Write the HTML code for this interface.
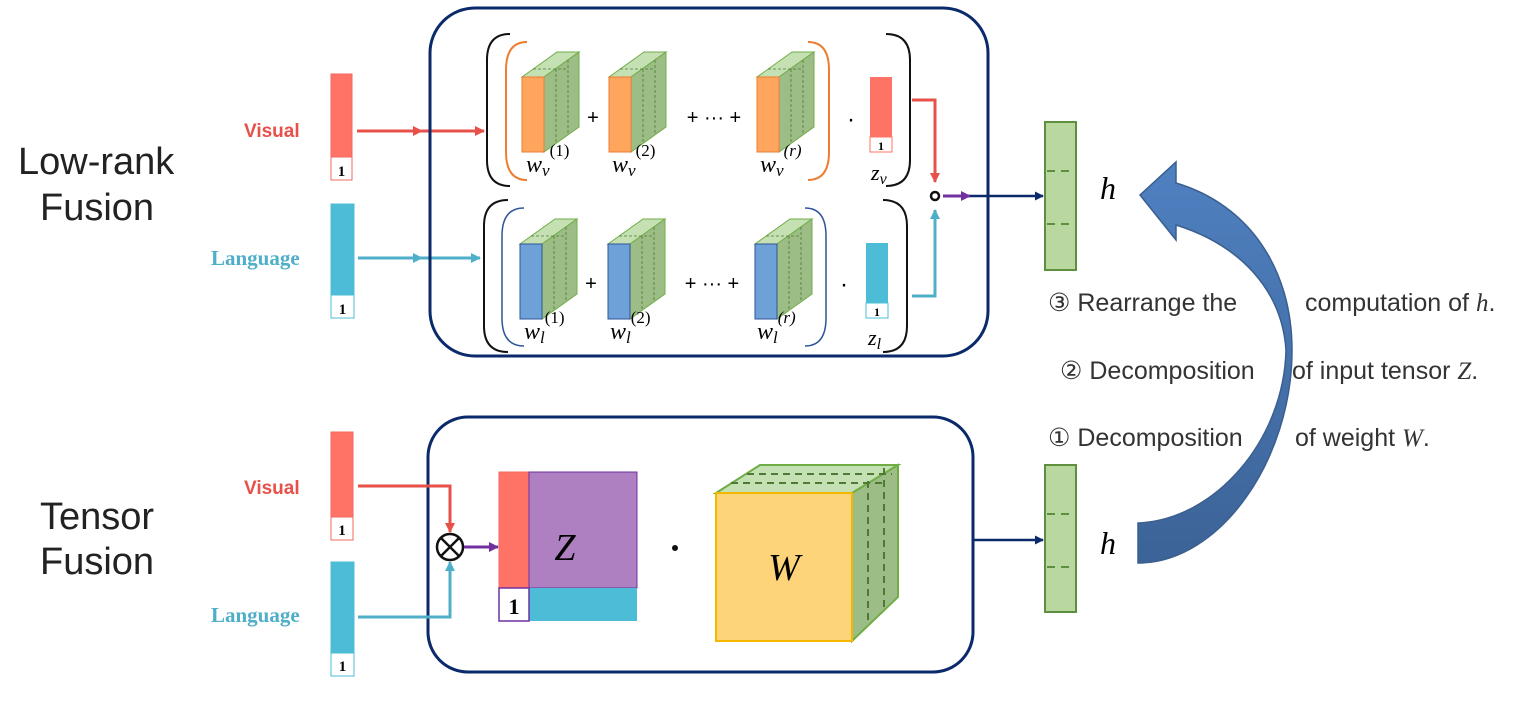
<!DOCTYPE html>
<html><head><meta charset="utf-8"><style>
body{margin:0;background:#fff;}
svg{display:block;}
text{font-family:"Liberation Sans",sans-serif;}
.s{font-family:"Liberation Serif",serif;font-style:italic;}
</style></head><body>
<svg width="1515" height="705" viewBox="0 0 1515 705" xmlns="http://www.w3.org/2000/svg">
<defs>
<marker id="ar" markerWidth="10" markerHeight="10" refX="9" refY="5" orient="auto" markerUnits="userSpaceOnUse"><path d="M0,0 L10,5 L0,10 Z" fill="#e8504a"/></marker>
<marker id="ac" markerWidth="10" markerHeight="10" refX="9" refY="5" orient="auto" markerUnits="userSpaceOnUse"><path d="M0,0 L10,5 L0,10 Z" fill="#4fafc9"/></marker>
<marker id="ap" markerWidth="10" markerHeight="10" refX="9" refY="5" orient="auto" markerUnits="userSpaceOnUse"><path d="M0,0 L10,5 L0,10 Z" fill="#7030a0"/></marker>
<marker id="an" markerWidth="9" markerHeight="9" refX="8" refY="4.5" orient="auto" markerUnits="userSpaceOnUse"><path d="M0,0 L9,4.5 L0,9 Z" fill="#0b2a6b"/></marker>
<linearGradient id="bg" x1="0" y1="0" x2="0" y2="1"><stop offset="0" stop-color="#4f80c0"/><stop offset="1" stop-color="#3c6397"/></linearGradient>
<g id="cube">
<path d="M0,0 L35,-25 L57,-25 L22,0 Z" fill="#c5e0b3" stroke="#70ad47" stroke-width="1"/>
<path d="M22,0 L57,-25 L57,50 L22,75 Z" fill="#9cbd86" stroke="#70ad47" stroke-width="1"/>
<path d="M11,-8 L46,-8 M34,-8 L34,67 M46,-17 L46,58" stroke="#4f7a35" stroke-width="0.8" stroke-dasharray="3,2" fill="none"/>
</g>
</defs>

<text x="18" y="174" font-size="38" fill="#222">Low-rank</text>
<text x="40" y="220" font-size="38" fill="#222">Fusion</text>
<text x="40" y="529" font-size="38" fill="#222">Tensor</text>
<text x="40" y="574" font-size="38" fill="#222">Fusion</text>

<text x="244" y="137" font-size="19" font-weight="bold" fill="#e8504a">Visual</text>
<text x="211" y="265" font-size="21" font-weight="bold" fill="#4fafc9" style="font-family:'Liberation Serif',serif">Language</text>
<rect x="331" y="74" width="21" height="83" fill="#ff7366" stroke="#f06a5f"/>
<rect x="331" y="157" width="21" height="23" fill="#fff" stroke="#f06a5f"/>
<text x="341.5" y="176" font-size="15" font-weight="bold" text-anchor="middle" style="font-family:'Liberation Serif',serif">1</text>
<rect x="331" y="204" width="23" height="91" fill="#4dbcd6" stroke="#4dbcd6"/>
<rect x="331" y="295" width="23" height="23" fill="#fff" stroke="#4dbcd6"/>
<text x="342.5" y="314" font-size="15" font-weight="bold" text-anchor="middle" style="font-family:'Liberation Serif',serif">1</text>
<line x1="357" y1="131" x2="422" y2="131" stroke="#e8504a" stroke-width="3" marker-end="url(#ar)"/>
<line x1="422" y1="131" x2="484" y2="131" stroke="#e8504a" stroke-width="3" marker-end="url(#ar)"/>
<line x1="358" y1="258" x2="422" y2="258" stroke="#4fafc9" stroke-width="3" marker-end="url(#ac)"/>
<line x1="422" y1="258" x2="480" y2="258" stroke="#4fafc9" stroke-width="3" marker-end="url(#ac)"/>

<rect x="430" y="8" width="558" height="348" rx="45" fill="none" stroke="#0b2a6b" stroke-width="3"/>
<path d="M510,34 Q487,34 487,60 L487,160 Q487,186 510,186" fill="none" stroke="#111" stroke-width="2"/>
<path d="M886,34 Q910,34 910,60 L910,160 Q910,186 886,186" fill="none" stroke="#111" stroke-width="2"/>
<path d="M527,42 Q506,42 506,70 L506,152 Q506,180 527,180" fill="none" stroke="#ed7d31" stroke-width="2"/>
<path d="M808,42 Q829,42 829,70 L829,152 Q829,180 808,180" fill="none" stroke="#ed7d31" stroke-width="2"/>
<path d="M508,200 Q484,200 484,226 L484,326 Q484,352 508,352" fill="none" stroke="#111" stroke-width="2"/>
<path d="M883,200 Q907,200 907,226 L907,326 Q907,352 883,352" fill="none" stroke="#111" stroke-width="2"/>
<path d="M524,208 Q502,208 502,236 L502,318 Q502,346 524,346" fill="none" stroke="#2f5597" stroke-width="1.5"/>
<path d="M805,208 Q826,208 826,236 L826,318 Q826,346 805,346" fill="none" stroke="#2f5597" stroke-width="1.5"/>

<use href="#cube" x="522" y="77"/><rect x="522" y="77" width="22" height="75" fill="#ffa55e" stroke="#ed7d31"/>
<use href="#cube" x="609" y="77"/><rect x="609" y="77" width="22" height="75" fill="#ffa55e" stroke="#ed7d31"/>
<use href="#cube" x="757" y="77"/><rect x="757" y="77" width="22" height="75" fill="#ffa55e" stroke="#ed7d31"/>
<text x="593" y="124" font-size="20" text-anchor="middle">+</text>
<text x="714" y="124" font-size="20" text-anchor="middle">+ ··· +</text>
<text x="851" y="127" font-size="24" text-anchor="middle">·</text>
<rect x="870" y="77" width="22" height="60" fill="#ff7366"/>
<rect x="870" y="137" width="22" height="15" fill="#fff" stroke="#ff7366"/>
<text x="881" y="150" font-size="12" font-weight="bold" text-anchor="middle" style="font-family:'Liberation Serif',serif">1</text>
<text class="s" x="526" y="172" font-size="24">w<tspan font-size="17" dy="4">v</tspan><tspan font-size="17" dy="-20" font-style="normal">(1)</tspan></text>
<text class="s" x="612" y="172" font-size="24">w<tspan font-size="17" dy="4">v</tspan><tspan font-size="17" dy="-20" font-style="normal">(2)</tspan></text>
<text class="s" x="760" y="172" font-size="24">w<tspan font-size="17" dy="4">v</tspan><tspan font-size="17" dy="-20">(r)</tspan></text>
<text class="s" x="871" y="180" font-size="22">z<tspan font-size="16" dy="4">v</tspan></text>

<use href="#cube" x="520" y="244"/><rect x="520" y="244" width="22" height="75" fill="#6fa1d9" stroke="#2f5597"/>
<use href="#cube" x="608" y="244"/><rect x="608" y="244" width="22" height="75" fill="#6fa1d9" stroke="#2f5597"/>
<use href="#cube" x="755" y="244"/><rect x="755" y="244" width="22" height="75" fill="#6fa1d9" stroke="#2f5597"/>
<text x="591" y="290" font-size="20" text-anchor="middle">+</text>
<text x="712" y="290" font-size="20" text-anchor="middle">+ ··· +</text>
<text x="844" y="292" font-size="24" text-anchor="middle">·</text>
<rect x="866" y="243" width="22" height="60" fill="#4dbcd6"/>
<rect x="866" y="303" width="22" height="15" fill="#fff" stroke="#4dbcd6"/>
<text x="877" y="316" font-size="12" font-weight="bold" text-anchor="middle" style="font-family:'Liberation Serif',serif">1</text>
<text class="s" x="524" y="339" font-size="24">w<tspan font-size="17" dy="4">l</tspan><tspan font-size="17" dy="-20" font-style="normal">(1)</tspan></text>
<text class="s" x="610" y="339" font-size="24">w<tspan font-size="17" dy="4">l</tspan><tspan font-size="17" dy="-20" font-style="normal">(2)</tspan></text>
<text class="s" x="757" y="339" font-size="24">w<tspan font-size="17" dy="4">l</tspan><tspan font-size="17" dy="-20">(r)</tspan></text>
<text class="s" x="868" y="345" font-size="22">z<tspan font-size="16" dy="4">l</tspan></text>

<path d="M912,100 L935,100 L935,182" fill="none" stroke="#e8504a" stroke-width="3" marker-end="url(#ar)"/>
<path d="M912,296 L935,296 L935,210" fill="none" stroke="#4fafc9" stroke-width="3" marker-end="url(#ac)"/>
<circle cx="935" cy="196" r="4" fill="none" stroke="#111" stroke-width="2.5"/>
<line x1="943" y1="196" x2="970" y2="196" stroke="#7030a0" stroke-width="3" marker-end="url(#ap)"/>
<line x1="970" y1="196" x2="1043" y2="196" stroke="#0b2a6b" stroke-width="2.5" marker-end="url(#an)"/>

<rect x="1045" y="122" width="31" height="148" fill="#b9d89f" stroke="#5e8f3e" stroke-width="2"/>
<path d="M1047,171 L1075,171 M1047,224 L1075,224" stroke="#5e8f3e" stroke-width="2" stroke-dasharray="8,6"/>
<text class="s" x="1100" y="199" font-size="32">h</text>
<rect x="1045" y="465" width="31" height="147" fill="#b9d89f" stroke="#5e8f3e" stroke-width="2"/>
<path d="M1047,514 L1075,514 M1047,567 L1075,567" stroke="#5e8f3e" stroke-width="2" stroke-dasharray="8,6"/>
<text class="s" x="1100" y="554" font-size="32">h</text>
<line x1="973" y1="540" x2="1043" y2="540" stroke="#0b2a6b" stroke-width="2.5" marker-end="url(#an)"/>

<path d="M1138,523 C1215,520 1284,440 1286,350 C1282,290 1240,245 1176,225 L1176,240 L1140,195 L1176,162 L1176,183 C1250,205 1292,270 1292,350 C1292,460 1220,563 1138,563 Z" fill="url(#bg)" stroke="#3a5f8f" stroke-width="1.5"/>

<g font-size="25" fill="#333">
<text x="1048" y="311">③ Rearrange the</text>
<text x="1305" y="311">computation of <tspan class="s">h</tspan>.</text>
<text x="1060" y="379">② Decomposition</text>
<text x="1292" y="379">of input tensor <tspan class="s">Z</tspan>.</text>
<text x="1048" y="446">① Decomposition</text>
<text x="1295" y="446">of weight <tspan class="s">W</tspan>.</text>
</g>

<text x="244" y="494" font-size="19" font-weight="bold" fill="#e8504a">Visual</text>
<text x="211" y="622" font-size="21" font-weight="bold" fill="#4fafc9" style="font-family:'Liberation Serif',serif">Language</text>
<rect x="331" y="432" width="22" height="85" fill="#ff7366" stroke="#f06a5f"/>
<rect x="331" y="517" width="22" height="23" fill="#fff" stroke="#f06a5f"/>
<text x="342" y="535" font-size="15" font-weight="bold" text-anchor="middle" style="font-family:'Liberation Serif',serif">1</text>
<rect x="331" y="562" width="23" height="91" fill="#4dbcd6" stroke="#4dbcd6"/>
<rect x="331" y="653" width="23" height="23" fill="#fff" stroke="#4dbcd6"/>
<text x="342.5" y="671" font-size="15" font-weight="bold" text-anchor="middle" style="font-family:'Liberation Serif',serif">1</text>

<rect x="428" y="417" width="545" height="255" rx="40" fill="none" stroke="#0b2a6b" stroke-width="3"/>
<path d="M358,486 L450,486 L450,532" fill="none" stroke="#e8504a" stroke-width="3" marker-end="url(#ar)"/>
<path d="M358,617 L450,617 L450,562" fill="none" stroke="#4fafc9" stroke-width="3" marker-end="url(#ac)"/>
<circle cx="450" cy="547" r="13" fill="#fff" stroke="#111" stroke-width="2.5"/>
<path d="M441,538 L459,556 M459,538 L441,556" stroke="#111" stroke-width="2.5"/>
<line x1="464" y1="547" x2="498" y2="547" stroke="#7030a0" stroke-width="3" marker-end="url(#ap)"/>

<rect x="499" y="472" width="30" height="116" fill="#ff7366" stroke="#f06a5f"/>
<rect x="529" y="472" width="108" height="116" fill="#ae80c1" stroke="#7030a0"/>
<rect x="529" y="588" width="108" height="33" fill="#4dbcd6"/>
<rect x="499" y="588" width="30" height="33" fill="#fff" stroke="#7030a0" stroke-width="1.5"/>
<text x="514" y="614" font-size="22" font-weight="bold" text-anchor="middle" style="font-family:'Liberation Serif',serif">1</text>
<text class="s" x="565" y="560" font-size="38" text-anchor="middle">Z</text>
<circle cx="675" cy="548" r="3" fill="#111"/>

<path d="M716,493 L760,465 L898,465 L852,493 Z" fill="#c5e0b3" stroke="#70ad47" stroke-width="2"/>
<path d="M852,493 L898,465 L898,597 L852,641 Z" fill="#9cbd86" stroke="#70ad47" stroke-width="2"/>
<path d="M731,483 L884,483 M747,474 L892,474 M868,481 L868,620 M884,468 L884,608" stroke="#4f7a35" stroke-width="2" stroke-dasharray="7,5" fill="none"/>
<rect x="716" y="493" width="136" height="148" fill="#fdd479" stroke="#f5b800" stroke-width="2"/>
<text class="s" x="784" y="580" font-size="38" text-anchor="middle">W</text>
</svg>
</body></html>
